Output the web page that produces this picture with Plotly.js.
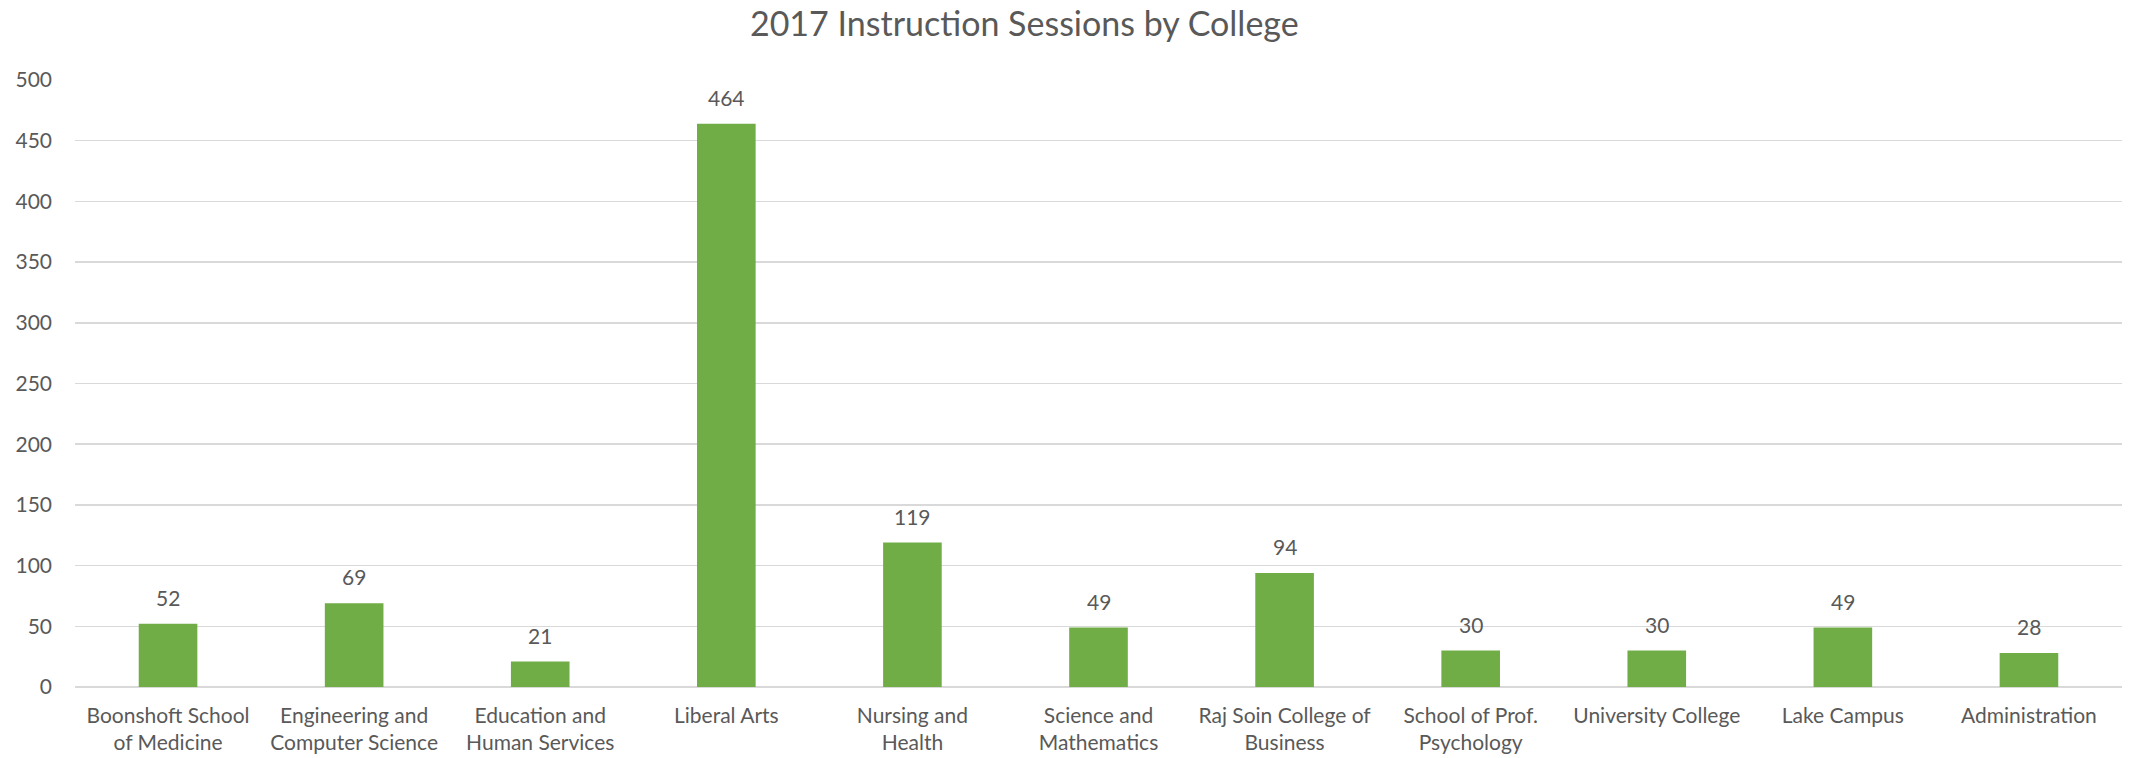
<!DOCTYPE html>
<html>
<head>
<meta charset="utf-8">
<script src="https://cdn.plot.ly/plotly-3.0.1.min.js"></script>
<style>
  html, body { margin: 0; padding: 0; background: #ffffff; }
  #chart { width: 2134px; height: 758px; }
</style>
</head>
<body>
<div id="chart"></div>
<script>
const chartTitle = "2017 Instruction Sessions by College";
const categories = [
  "Boonshoft School<br>of Medicine",
  "Engineering and<br>Computer Science",
  "Education and<br>Human Services",
  "Liberal Arts",
  "Nursing and<br>Health",
  "Science and<br>Mathematics",
  "Raj Soin College of<br>Business",
  "School of Prof.<br>Psychology",
  "University College",
  "Lake Campus",
  "Administration"
];
const sessions = [52, 69, 21, 464, 119, 49, 94, 30, 30, 49, 28];
const yTickValues = [0, 50, 100, 150, 200, 250, 300, 350, 400, 450, 500];

const textColor = "#595959";
const fontFamily = "Lato, 'Open Sans', sans-serif";

const trace = {
  type: "bar",
  x: categories,
  y: sessions,
  marker: { color: "#70AD47" },
  hoverinfo: "x+y"
};

const labelAnnotations = categories.map((c, i) => ({
  x: c,
  y: sessions[i],
  xref: "x",
  yref: "y",
  text: String(sessions[i]),
  showarrow: false,
  yanchor: "bottom",
  yshift: 12,
  font: { family: fontFamily, size: 21, color: textColor }
}));

const layout = {
  width: 2134,
  height: 758,
  paper_bgcolor: "#ffffff",
  plot_bgcolor: "#ffffff",
  margin: { l: 75, r: 12, t: 80, b: 71, pad: 0 },
  showlegend: false,
  bargap: 0.685,
  title: {
    text: chartTitle,
    xref: "container",
    yref: "container",
    x: 0.48,
    y: 0.968,
    xanchor: "center",
    yanchor: "middle",
    font: { family: fontFamily, size: 34, color: textColor }
  },
  xaxis: {
    type: "category",
    showgrid: false,
    zeroline: false,
    showline: false,
    ticks: "",
    ticklabelstandoff: 14,
    tickfont: { family: fontFamily, size: 21, color: textColor },
    tickangle: 0
  },
  yaxis: {
    range: [0, 500],
    tickvals: yTickValues,
    ticktext: yTickValues.map(String),
    showgrid: true,
    gridcolor: "#D9D9D9",
    gridwidth: 1.5,
    zeroline: true,
    zerolinecolor: "#D9D9D9",
    zerolinewidth: 1.5,
    showline: false,
    ticks: "",
    ticklabelstandoff: 22,
    tickfont: { family: fontFamily, size: 21, color: textColor }
  },
  annotations: labelAnnotations
};

Plotly.newPlot("chart", [trace], layout, { displayModeBar: false, staticPlot: true });
</script>
</body>
</html>
